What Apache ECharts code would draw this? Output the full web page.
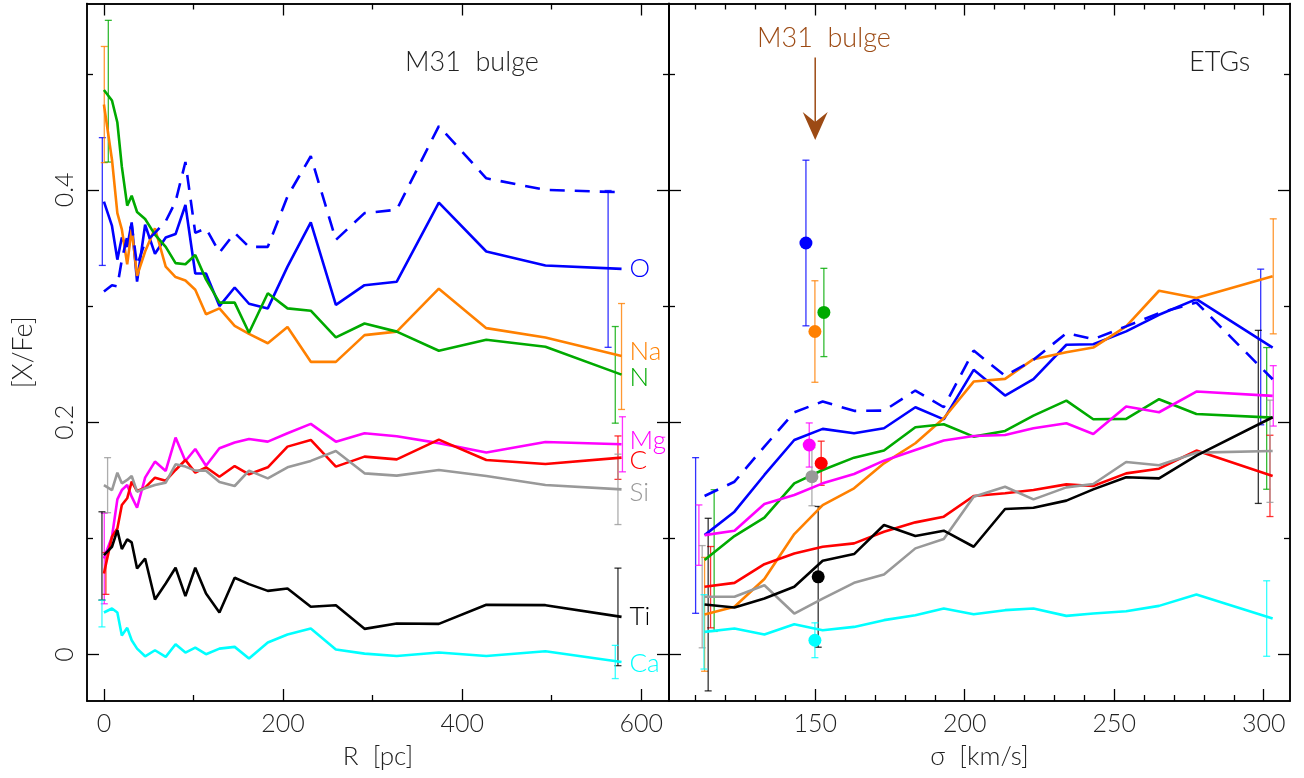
<!DOCTYPE html>
<html>
<head>
<meta charset="utf-8">
<script src="https://cdn.jsdelivr.net/npm/echarts@6/dist/echarts.min.js"></script>
<style>
html,body{margin:0;padding:0;background:#fff;}
#chart{width:1304px;height:778px;}
</style>
</head>
<body>
<div id="chart"></div>
<script>
// ---------- DATA ----------
const ELEMENTS = ['O','Na','N','Mg','C','Si','Ti','Ca'];

// Left panel: M31 bulge radial profiles, R [pc]
const R_PC = [0, 9, 15, 20, 26, 31, 37, 46, 57, 69, 80, 91, 102, 114, 129, 146, 162, 183, 205, 231, 259, 291, 327, 374, 427, 493, 578];
const M31_O    = [0.390,0.369,0.340,0.359,0.351,0.372,0.321,0.370,0.345,0.359,0.362,0.387,0.328,0.328,0.300,0.316,0.302,0.298,0.334,0.372,0.301,0.318,0.321,0.389,0.347,0.335,0.332];
const M31_O_ALT= [0.3125,0.318,0.317,0.340,0.360,0.370,0.335,0.355,0.363,0.373,0.390,0.424,0.363,0.367,0.346,0.363,0.351,0.351,0.3945,0.429,0.357,0.380,0.383,0.455,0.410,0.400,0.398];
const M31_NA   = [0.4735,0.426,0.380,0.366,0.336,0.366,0.326,0.347,0.367,0.334,0.325,0.322,0.314,0.293,0.298,0.283,0.276,0.268,0.282,0.252,0.252,0.275,0.278,0.315,0.281,0.273,0.257];
const M31_N    = [0.486,0.477,0.458,0.420,0.3865,0.395,0.381,0.375,0.3615,0.351,0.337,0.336,0.344,0.323,0.303,0.303,0.277,0.311,0.298,0.296,0.273,0.285,0.278,0.2615,0.271,0.265,0.241];
const M31_MG   = [0.0827,0.1014,0.1336,0.1416,0.1459,0.1359,0.1264,0.1523,0.1661,0.1581,0.1868,0.1666,0.1770,0.1626,0.1776,0.1825,0.1856,0.1833,0.1905,0.1986,0.1833,0.1905,0.188,0.182,0.174,0.183,0.181];
const M31_C    = [0.0698,0.1014,0.1086,0.1287,0.1345,0.1488,0.1408,0.1437,0.1523,0.1497,0.1589,0.1675,0.1566,0.1612,0.1531,0.1623,0.1552,0.1612,0.179,0.1848,0.1618,0.1704,0.168,0.185,0.1675,0.164,0.1695];
const M31_SI   = [0.1459,0.1416,0.1566,0.1474,0.1503,0.1537,0.1402,0.1431,0.1459,0.148,0.1638,0.1618,0.1583,0.1583,0.1485,0.1451,0.1583,0.1517,0.1612,0.1667,0.1753,0.156,0.154,0.1589,0.1537,0.146,0.1422];
const M31_TI   = [0.0856,0.0928,0.1071,0.0908,0.0991,0.0965,0.0741,0.0827,0.0474,0.0612,0.0747,0.0503,0.0747,0.0525,0.0362,0.0661,0.0606,0.0548,0.0568,0.0411,0.0425,0.0221,0.0267,0.0264,0.0428,0.0425,0.0324];
const M31_CA   = [0.0362,0.0396,0.0362,0.0164,0.023,0.0123,0.0051,-0.0015,0.0037,-0.002,0.0089,0.0017,0.006,0.0003,0.0051,0.0066,-0.0035,0.0103,0.0172,0.0224,0.0043,0.0008,-0.0012,0.0017,-0.0012,0.0028,-0.0064];

// Error bars, left panel: [R, value, half-error] in ELEMENTS order
const M31_ERR_INNER = [[-1.8,0.390,0.055],[0.4,0.4735,0.050],[4.9,0.485,0.061],[0.4,0.0827,0.039],[2.2,0.0698,0.018],[4.1,0.1458,0.0237],[-2.2,0.0849,0.038],[-2.2,0.0353,0.0115]];
const M31_ERR_OUTER = [[563,0.332,0.0675],[578,0.2566,0.0456],[571,0.2408,0.0416],[579,0.181,0.0237],[574,0.1695,0.0187],[574,0.1422,0.0303],[574,0.0324,0.042],[571,-0.0064,0.0143]];

// Right panel: ETGs vs velocity dispersion sigma [km/s]
const SIGMA = [113, 123, 133, 143, 152.5, 163, 173, 183.5, 193, 203, 213.5, 223, 234, 243, 254, 265, 277.5, 303];
const ETG_O    = [0.1028,0.123,0.1546,0.1847,0.1943,0.1905,0.1948,0.2129,0.2025,0.2451,0.2230,0.2371,0.2667,0.2672,0.2782,0.2925,0.3060,0.2643];
const ETG_O_ALT= [0.1365,0.1488,0.179,0.2086,0.2178,0.2098,0.2100,0.2273,0.2129,0.2617,0.2399,0.2537,0.2767,0.2715,0.2825,0.2939,0.3031,0.2370];
const ETG_NA   = [0.0345,0.0411,0.0650,0.1037,0.1287,0.1431,0.1646,0.1819,0.2034,0.2350,0.2373,0.2543,0.2603,0.2643,0.2825,0.3132,0.3069,0.3256];
const ETG_N    = [0.0813,0.1020,0.1178,0.1474,0.1589,0.1695,0.1756,0.1957,0.1983,0.1876,0.1925,0.2057,0.2186,0.2026,0.2029,0.2198,0.2071,0.2040];
const ETG_MG   = [0.1028,0.1066,0.1296,0.1373,0.1474,0.1554,0.1669,0.1761,0.1842,0.1882,0.1890,0.1948,0.1991,0.1899,0.2135,0.2086,0.2264,0.2227];
const ETG_C    = [0.0583,0.0617,0.0778,0.0870,0.0928,0.0957,0.1057,0.1138,0.1187,0.1365,0.1388,0.1417,0.1465,0.1451,0.1560,0.1600,0.1756,0.1537];
const ETG_SI   = [0.0497,0.0497,0.0597,0.0353,0.0482,0.0617,0.0689,0.0914,0.0994,0.1359,0.1445,0.1336,0.1439,0.1468,0.1658,0.1629,0.1738,0.1752];
const ETG_TI   = [0.0431,0.0405,0.0483,0.0583,0.0807,0.0865,0.1115,0.1020,0.1066,0.0928,0.1253,0.1264,0.1325,0.1422,0.1526,0.1517,0.1712,0.2043];
const ETG_CA   = [0.0195,0.0224,0.0172,0.0261,0.0209,0.0238,0.0296,0.0339,0.0396,0.0347,0.0382,0.0396,0.0333,0.0353,0.0373,0.0419,0.0517,0.0310];

const ETG_ERR_LOW  = [[110,0.1025,0.067],[113,0.0346,0.049],[116.2,0.0809,0.061],[111.1,0.1028,0.026],[115,0.058,0.035],[112.2,0.0498,0.044],[114.2,0.043,0.0743],[112.8,0.0195,0.032]];
const ETG_ERR_HIGH = [[299,0.2648,0.067],[303.2,0.3256,0.0495],[301,0.2033,0.061],[303.2,0.2227,0.026],[302.1,0.1538,0.035],[302.1,0.175,0.044],[298.2,0.2046,0.0745],[301,0.031,0.0325]];

// M31 bulge global values placed in the sigma panel: [sigma, value, half-error]
const M31_GLOBAL = [[146.9,0.3543,0.0713],[149.9,0.2781,0.0437],[152.9,0.2945,0.038],[148,0.1804,0.019],[152,0.1647,0.019],[148.9,0.1531,0.025],[151,0.0669,0.0606],[149.9,0.0123,0.015]];
// Arrow pointing at M31 sigma: [sigma, y start, y tip]
const M31_ARROW = [150, 0.514, 0.443];

// Tick values
const R_MAJOR = [0, 200, 400, 600];
const R_MINOR = [100, 300, 500];
const SIG_MAJOR = [150, 200, 250, 300];
const SIG_MINOR = [110,120,130,140,160,170,180,190,210,220,230,240,260,270,280,290];
const Y_MAJOR = [0, 0.2, 0.4];
const Y_MINOR = [0.1, 0.3, 0.5];

// ---------- STYLE ----------
const COLORS = ['#0000ff','#ff8000','#00aa00','#ff00ff','#ff0000','#999999','#000000','#00ffff'];
const LABEL_DY = [0,-4,3,-4,3,3,0,2];
const FONT = 'Lato, "DejaVu Sans", sans-serif';
const BROWN = '#9c4a14';

const M31_LINES = [M31_O, M31_NA, M31_N, M31_MG, M31_C, M31_SI, M31_TI, M31_CA];
const ETG_LINES = [ETG_O, ETG_NA, ETG_N, ETG_MG, ETG_C, ETG_SI, ETG_TI, ETG_CA];

const zip = (xs, ys) => xs.map((x, i) => [x, ys[i]]);

const YMIN = -0.04, YMAX = 0.5605;
const RMIN = -18.9, RMAX = 631;
const SMIN = 101.1, SMAX = 308.8;

const txt = (size, color) => ({ fontFamily: FONT, fontWeight: 300, fontSize: size, color: color || '#222' });

function xAx(grid, pos, min, max, ticks, len, labels) {
  return {
    type: 'value', gridIndex: grid, position: pos, min: min, max: max,
    axisLine: { show: true, onZero: false, lineStyle: { color: '#000', width: 1.5 } },
    axisTick: { show: true, inside: true, length: len, customValues: ticks, lineStyle: { color: '#000', width: 1.3 } },
    axisLabel: labels ? Object.assign({ show: true, customValues: ticks, margin: 10 }, txt(25)) : { show: false },
    splitLine: { show: false }
  };
}
function yAx(grid, pos, ticks, len, labels) {
  return {
    type: 'value', gridIndex: grid, position: pos, min: YMIN, max: YMAX,
    axisLine: { show: true, onZero: false, lineStyle: { color: '#000', width: 1.5 } },
    axisTick: { show: true, inside: true, length: len, customValues: ticks, lineStyle: { color: '#000', width: 1.3 } },
    axisLabel: labels ? Object.assign({ show: true, customValues: ticks, rotate: 90, margin: 10 }, txt(25)) : { show: false },
    splitLine: { show: false }
  };
}

const xAxes = [
  Object.assign(xAx(0, 'bottom', RMIN, RMAX, R_MAJOR, 12, true), { name: 'R  [pc]', nameLocation: 'middle', nameGap: 43, nameTextStyle: txt(26) }),
  xAx(0, 'bottom', RMIN, RMAX, R_MINOR, 6, false),
  xAx(0, 'top', RMIN, RMAX, R_MAJOR, 12, false),
  xAx(0, 'top', RMIN, RMAX, R_MINOR, 6, false),
  Object.assign(xAx(1, 'bottom', SMIN, SMAX, SIG_MAJOR, 12, true), { name: 'σ  [km/s]', nameLocation: 'middle', nameGap: 43, nameTextStyle: txt(26) }),
  xAx(1, 'bottom', SMIN, SMAX, SIG_MINOR, 6, false),
  xAx(1, 'top', SMIN, SMAX, SIG_MAJOR, 12, false),
  xAx(1, 'top', SMIN, SMAX, SIG_MINOR, 6, false)
];
const yAxes = [
  Object.assign(yAx(0, 'left', Y_MAJOR, 12, true), { name: '[X/Fe]', nameLocation: 'middle', nameRotate: 90, nameGap: 50, nameTextStyle: txt(27) }),
  yAx(0, 'left', Y_MINOR, 6, false),
  yAx(0, 'right', Y_MAJOR, 12, false),
  yAx(0, 'right', Y_MINOR, 6, false),
  yAx(1, 'left', Y_MAJOR, 12, false),
  yAx(1, 'left', Y_MINOR, 6, false),
  yAx(1, 'right', Y_MAJOR, 12, false),
  yAx(1, 'right', Y_MINOR, 6, false)
];

function errRender(params, api) {
  const x = api.value(0), c = api.value(1), e = api.value(2), ci = api.value(3);
  const top = api.coord([x, c + e]);
  const bot = api.coord([x, c - e]);
  const w = 3.5;
  const st = { stroke: COLORS[ci], lineWidth: 1.3, opacity: 0.8 };
  return { type: 'group', children: [
    { type: 'line', shape: { x1: top[0], y1: top[1], x2: bot[0], y2: bot[1] }, style: st },
    { type: 'line', shape: { x1: top[0] - w, y1: top[1], x2: top[0] + w, y2: top[1] }, style: st },
    { type: 'line', shape: { x1: bot[0] - w, y1: bot[1], x2: bot[0] + w, y2: bot[1] }, style: st }
  ]};
}

function arrowRender(params, api) {
  const p0 = api.coord([api.value(0), api.value(1)]);
  const p1 = api.coord([api.value(0), api.value(2)]);
  const hw = 12.5, hl = 28, notch = 18;
  return { type: 'group', children: [
    { type: 'line', shape: { x1: p0[0], y1: p0[1], x2: p1[0], y2: p1[1] - notch }, style: { stroke: BROWN, lineWidth: 1.5 } },
    { type: 'polygon', shape: { points: [[p1[0], p1[1]], [p1[0] - hw, p1[1] - hl], [p1[0], p1[1] - notch], [p1[0] + hw, p1[1] - hl]] }, style: { fill: BROWN } }
  ]};
}

const series = [];
// Left panel lines
ELEMENTS.forEach((el, i) => {
  series.push({
    type: 'line', name: 'M31 ' + el, xAxisIndex: 0, yAxisIndex: 0,
    data: zip(R_PC, M31_LINES[i]), showSymbol: false, symbol: 'none',
    lineStyle: { color: COLORS[i], width: 2.6 }, itemStyle: { color: COLORS[i] },
    z: 3,
    endLabel: Object.assign({ show: true, formatter: el, distance: 8, offset: [0, LABEL_DY[i]] }, txt(26, COLORS[i]))
  });
});
series.push({
  type: 'line', name: 'M31 O alt', xAxisIndex: 0, yAxisIndex: 0,
  data: zip(R_PC, M31_O_ALT), showSymbol: false, symbol: 'none',
  lineStyle: { color: COLORS[0], width: 2.6, type: [15, 10] }, z: 3
});
// Right panel lines
ELEMENTS.forEach((el, i) => {
  series.push({
    type: 'line', name: 'ETG ' + el, xAxisIndex: 4, yAxisIndex: 4,
    data: zip(SIGMA, ETG_LINES[i]), showSymbol: false, symbol: 'none',
    lineStyle: { color: COLORS[i], width: 2.6 }, z: 3
  });
});
series.push({
  type: 'line', name: 'ETG O alt', xAxisIndex: 4, yAxisIndex: 4,
  data: zip(SIGMA, ETG_O_ALT), showSymbol: false, symbol: 'none',
  lineStyle: { color: COLORS[0], width: 2.6, type: [15, 10] }, z: 3
});
// Arrow
series.push({ type: 'custom', xAxisIndex: 4, yAxisIndex: 4, renderItem: arrowRender, data: [M31_ARROW], encode: { x: 0, y: [1, 2] }, z: 4, clip: false });
// Error bars
const withIdx = arr => arr.map((d, i) => [d[0], d[1], d[2], i]);
series.push({ type: 'custom', xAxisIndex: 0, yAxisIndex: 0, renderItem: errRender, data: withIdx(M31_ERR_INNER).concat(withIdx(M31_ERR_OUTER)), encode: { x: 0, y: 1 }, z: 2, clip: false });
series.push({ type: 'custom', xAxisIndex: 4, yAxisIndex: 4, renderItem: errRender, data: withIdx(ETG_ERR_LOW).concat(withIdx(ETG_ERR_HIGH)).concat(withIdx(M31_GLOBAL)), encode: { x: 0, y: 1 }, z: 2, clip: false });
// M31 global points
series.push({
  type: 'scatter', xAxisIndex: 4, yAxisIndex: 4, symbolSize: 13, z: 5,
  data: withIdx(M31_GLOBAL).map(d => ({ value: [d[0], d[1]], itemStyle: { color: COLORS[d[3]], opacity: 1 } }))
});

const option = {
  animation: false,
  backgroundColor: '#fff',
  grid: [
    { left: 87, top: 3.5, width: 582, height: 697.5 },
    { left: 669, top: 3.5, width: 621, height: 697.5 }
  ],
  xAxis: xAxes,
  yAxis: yAxes,
  series: series,
  graphic: [
    { type: 'text', left: 405, top: 49, style: { text: 'M31  bulge', fontFamily: FONT, fontWeight: 300, fontSize: 27, fill: '#222' } },
    { type: 'text', left: 1189, top: 49, style: { text: 'ETGs', fontFamily: FONT, fontWeight: 300, fontSize: 27, fill: '#222' } },
    { type: 'text', left: 757, top: 25, style: { text: 'M31  bulge', fontFamily: FONT, fontWeight: 300, fontSize: 27, fill: BROWN } }
  ]
};

const chart = echarts.init(document.getElementById('chart'), null, { renderer: 'canvas', width: 1304, height: 778 });
chart.setOption(option);
</script>
</body>
</html>
